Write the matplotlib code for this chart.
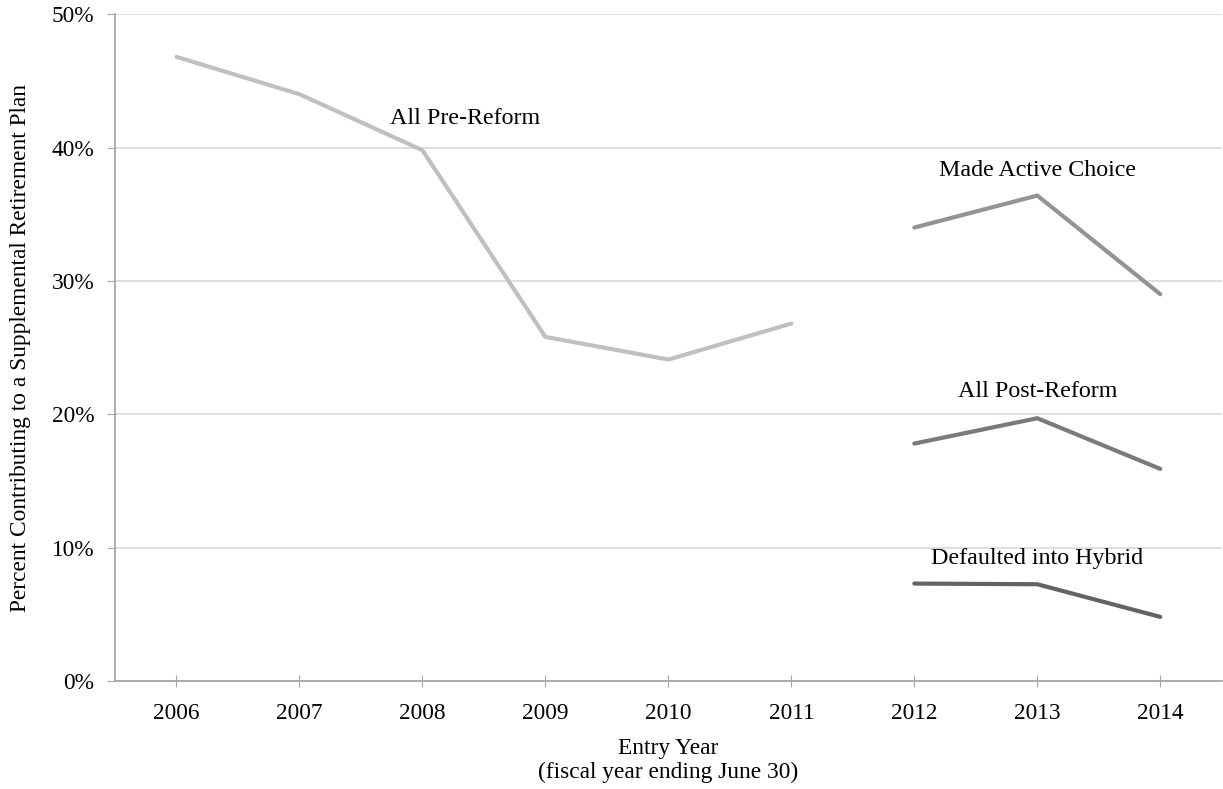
import numpy as np
import matplotlib.pyplot as plt
from matplotlib.ticker import PercentFormatter

plt.rcParams['font.family'] = ['Liberation Serif', 'DejaVu Serif']

years = ['2006', '2007', '2008', '2009', '2010', '2011', '2012', '2013', '2014']
pre_years = [0, 1, 2, 3, 4, 5]
post_years = [6, 7, 8]

all_pre_reform = [46.8, 44.0, 39.8, 25.8, 24.1, 26.8]
made_active_choice = [34.0, 36.4, 29.0]
all_post_reform = [17.8, 19.7, 15.9]
defaulted_into_hybrid = [7.3, 7.25, 4.8]

fig = plt.figure(figsize=(12.23, 7.89), dpi=100)
ax = fig.add_axes([0.094, 0.137, 0.905, 0.845])

lw = 3.0
ax.plot(pre_years, all_pre_reform, color='#c0c0c0', lw=lw, solid_capstyle='round', zorder=3)
ax.plot(post_years, made_active_choice, color='#939393', lw=lw, solid_capstyle='round', zorder=3)
ax.plot(post_years, all_post_reform, color='#7a7a7a', lw=lw, solid_capstyle='round', zorder=3)
ax.plot(post_years, defaulted_into_hybrid, color='#636363', lw=lw, solid_capstyle='round', zorder=3)

fs = 16.8
ax.text(2.35, 42.2, 'All Pre-Reform', fontsize=17.3, ha='center', va='center')
ax.text(7.0, 38.3, 'Made Active Choice', fontsize=17.3, ha='center', va='center')
ax.text(7.0, 21.7, 'All Post-Reform', fontsize=17.3, ha='center', va='center')
ax.text(7.0, 9.2, 'Defaulted into Hybrid', fontsize=17.3, ha='center', va='center')

ax.set_xlim(-0.5, 8.5)
ax.set_ylim(0, 50)
ax.set_xticks(range(len(years)))
ax.set_xticklabels(years, fontsize=fs)
ax.set_yticks(np.arange(0, 51, 10))
ax.yaxis.set_major_formatter(PercentFormatter(decimals=0))
ax.tick_params(axis='y', labelsize=fs, length=6, color='#a6a6a6', pad=9)
ax.tick_params(axis='x', labelsize=fs, length=8, direction='inout', color='#a6a6a6', pad=12)

ax.grid(axis='y', color='#d9d9d9', lw=1.2)
ax.set_axisbelow(True)
for s in ['top', 'right']:
    ax.spines[s].set_visible(False)
for s in ['left', 'bottom']:
    ax.spines[s].set_color('#a6a6a6')
    ax.spines[s].set_linewidth(1.3)

ax.set_xlabel('Entry Year\n(fiscal year ending June 30)', fontsize=fs, labelpad=10)
ax.set_ylabel('Percent Contributing to a Supplemental Retirement Plan', fontsize=fs)
ax.yaxis.set_label_coords(-0.076, 0.5)

fig.savefig('out.png', dpi=100)
